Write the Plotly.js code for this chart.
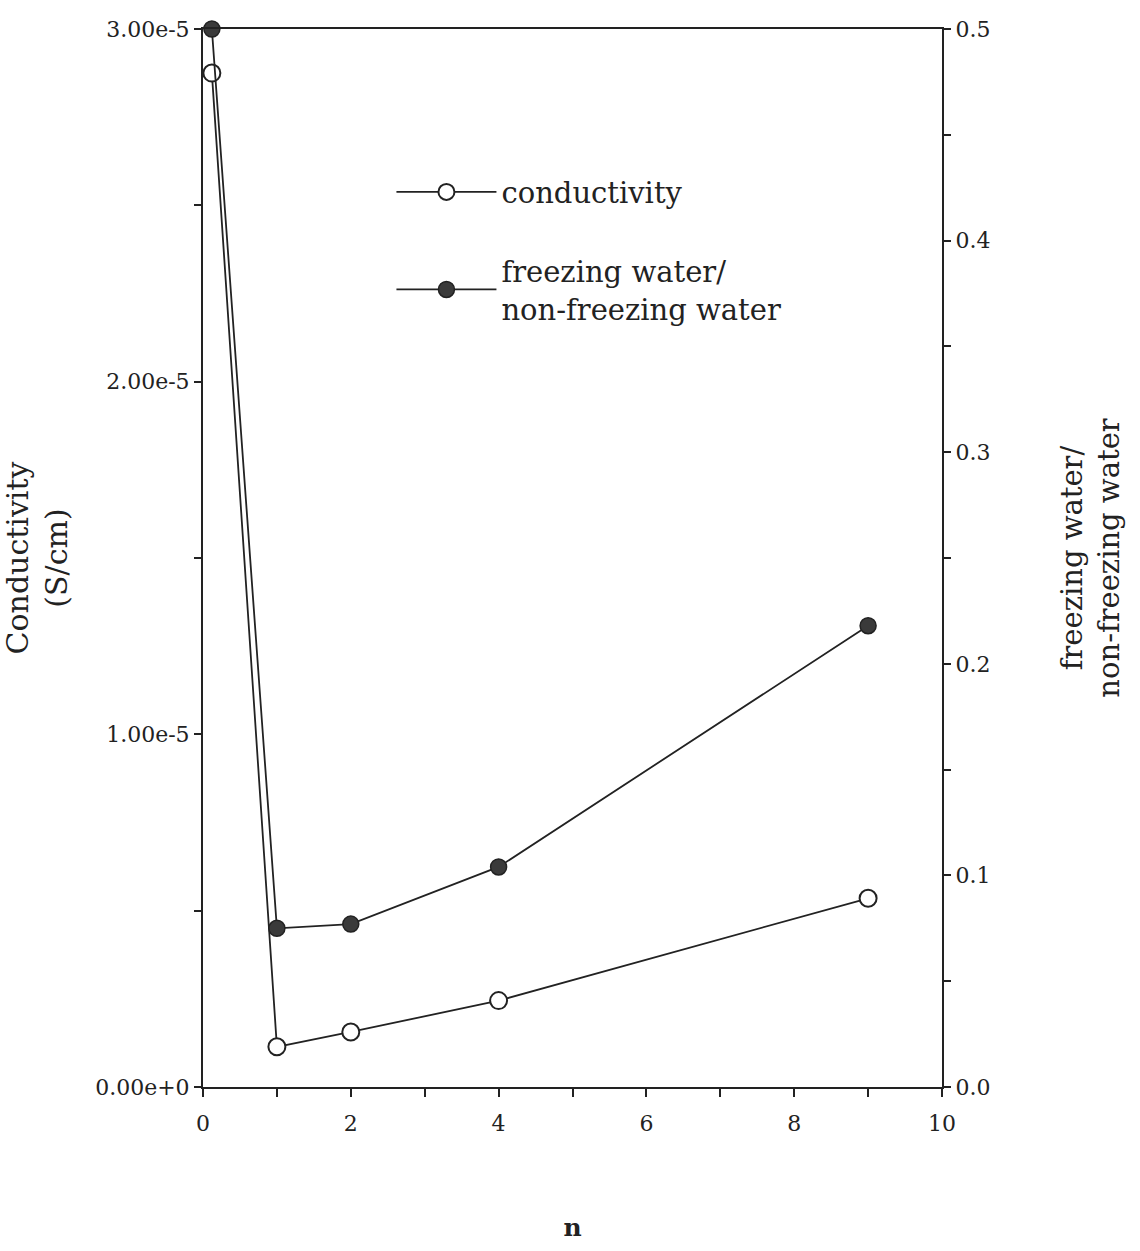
<!DOCTYPE html>
<html>
<head>
<meta charset="utf-8">
<script src="https://cdn.plot.ly/plotly-3.0.1.min.js"></script>
<style>html,body{margin:0;padding:0;background:#fff;}</style>
</head>
<body>
<div id="chart" style="width:1140px;height:1251px;"></div>
<script>
// Data
const nValues = [0.12, 1, 2, 4, 9];
const conductivity = [2.875e-5, 1.14e-6, 1.56e-6, 2.45e-6, 5.35e-6];
const waterRatio = [0.5, 0.075, 0.077, 0.104, 0.218];

const leftTickVals = [0, 1e-5, 2e-5, 3e-5];
const leftTickText = ["0.00e+0", "1.00e-5", "2.00e-5", "3.00e-5"];
const rightTickVals = [0, 0.1, 0.2, 0.3, 0.4, 0.5];
const rightTickText = ["0.0", "0.1", "0.2", "0.3", "0.4", "0.5"];
const xTickVals = [0, 2, 4, 6, 8, 10];

const seriesNames = ["conductivity", "freezing water/<br>non-freezing water"];

const FONT = "DejaVu Serif, Liberation Serif, serif";
const INK = "#222222";

const traces = [
  {
    x: nValues, y: conductivity, name: seriesNames[0], legendgroup: "g1",
    type: "scatter", mode: "lines+markers", yaxis: "y",
    line: {color: INK, width: 1.8},
    marker: {symbol: "circle", size: 17, color: "#ffffff", line: {color: INK, width: 2}},
    cliponaxis: false
  },
  {
    x: nValues, y: waterRatio, name: seriesNames[1], legendgroup: "g2",
    type: "scatter", mode: "lines+markers", yaxis: "y2",
    line: {color: INK, width: 1.8},
    marker: {symbol: "circle", size: 16, color: "#3a3a3a", line: {color: INK, width: 1.5}},
    cliponaxis: false
  }
];

const layout = {
  width: 1140, height: 1251,
  paper_bgcolor: "#ffffff", plot_bgcolor: "#ffffff",
  margin: {l: 203, r: 198, t: 29, b: 164},
  font: {family: FONT, color: INK, size: 22},
  showlegend: true,
  legend: {
    x: 0.255, y: 0.87, xanchor: "left", yanchor: "top",
    bgcolor: "rgba(0,0,0,0)", borderwidth: 0,
    font: {family: FONT, size: 29, color: INK},
    itemwidth: 100, tracegroupgap: 38, traceorder: "grouped"
  },
  xaxis: {
    range: [0, 10], tickvals: xTickVals, ticks: "outside", ticklen: 8, tickwidth: 2,
    tickcolor: INK, showline: true, linecolor: INK, linewidth: 2, mirror: true,
    showgrid: false, zeroline: false, ticklabelstandoff: 8,
    tickfont: {family: FONT, size: 22, color: INK},
    minor: {dtick: 1, ticks: "outside", ticklen: 8, tickwidth: 2, tickcolor: INK, showgrid: false},
    title: {text: "<b>n</b>", font: {family: FONT, size: 25, color: INK}, standoff: 83}
  },
  yaxis: {
    range: [0, 3e-5], tickvals: leftTickVals, ticktext: leftTickText,
    ticks: "outside", ticklen: 7, tickwidth: 2, tickcolor: INK,
    showline: true, linecolor: INK, linewidth: 2, showgrid: false, zeroline: false,
    tickfont: {family: FONT, size: 22, color: INK},
    minor: {dtick: 0.5e-5, ticks: "outside", ticklen: 7, tickwidth: 2, tickcolor: INK, showgrid: false},
    title: {text: "Conductivity<br>(S/cm)", font: {family: FONT, size: 30, color: INK}, standoff: 24}
  },
  yaxis2: {
    range: [0, 0.5], overlaying: "y", side: "right", anchor: "x",
    tickvals: rightTickVals, ticktext: rightTickText,
    ticks: "outside", ticklen: 7, tickwidth: 2, tickcolor: INK,
    showline: true, linecolor: INK, linewidth: 2, showgrid: false, zeroline: false,
    tickfont: {family: FONT, size: 22, color: INK},
    minor: {dtick: 0.05, ticks: "outside", ticklen: 7, tickwidth: 2, tickcolor: INK, showgrid: false},
    title: {text: "freezing water/<br>non-freezing water", font: {family: FONT, size: 29, color: INK}, standoff: 72}
  }
};

Plotly.newPlot("chart", traces, layout, {staticPlot: true, displayModeBar: false});
</script>
</body>
</html>
